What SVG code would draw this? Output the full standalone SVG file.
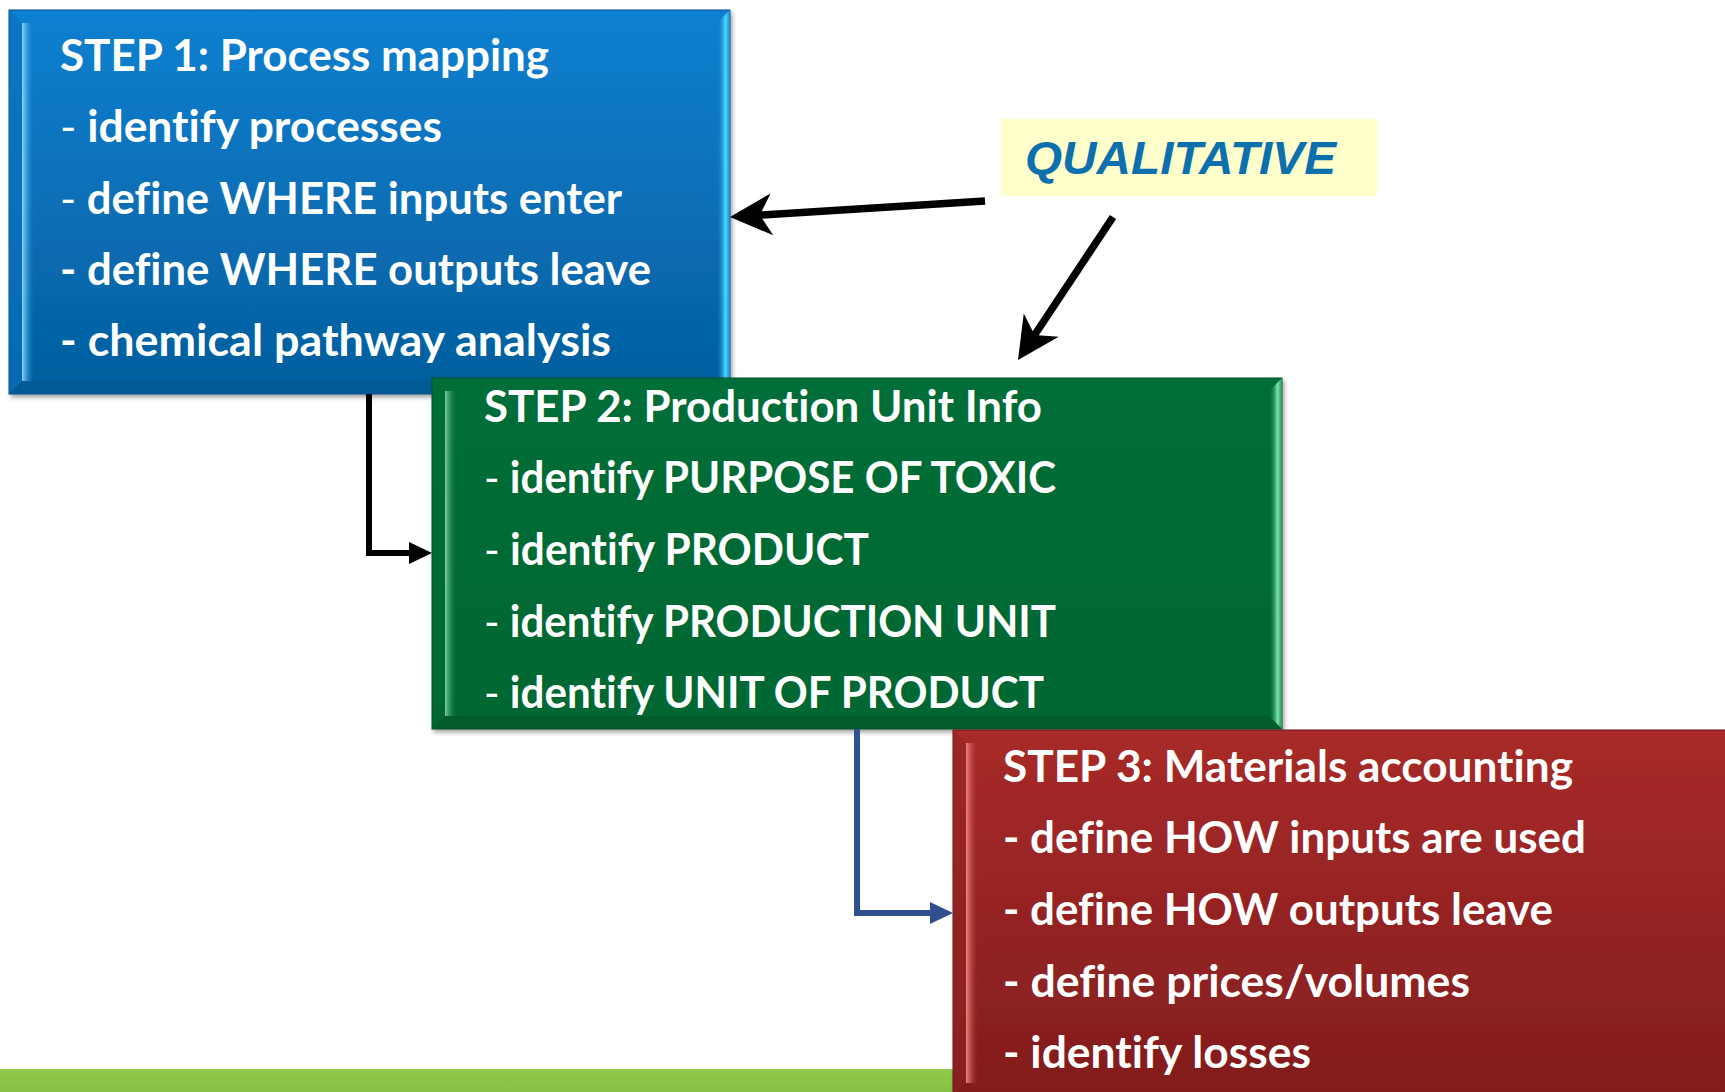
<svg xmlns="http://www.w3.org/2000/svg" width="1725" height="1092" viewBox="0 0 1725 1092">
  <style>
    .t { font-family: Lato, "Open Sans", "Liberation Sans", sans-serif; font-weight: 700; font-size: 43px; fill: #ffffff; font-variant-ligatures: none; font-feature-settings: "liga" 0; }
    .thin { font-weight: 400; }
    .q { font-family: "Liberation Sans", Arial, sans-serif; font-weight: 700; font-style: italic; font-size: 46px; fill: #0b70ac; }
    .blk { fill: none; stroke: #000000; stroke-width: 6; }
    .blu { fill: none; stroke: #2f4f8f; stroke-width: 6; }
    .qa { fill: none; stroke: #000000; stroke-width: 7.5; }
  </style>
  <defs>
    <filter id="sh" x="-5%" y="-5%" width="110%" height="115%">
      <feDropShadow dx="2" dy="3" stdDeviation="2" flood-color="#000" flood-opacity="0.35"/>
    </filter>
    <linearGradient id="gBlue" x1="0" y1="0" x2="0" y2="1">
      <stop offset="0" stop-color="#0b80d1"/>
      <stop offset="1" stop-color="#055e9d"/>
    </linearGradient>
    <linearGradient id="gGreen" x1="0" y1="0" x2="0" y2="1">
      <stop offset="0" stop-color="#056e38"/>
      <stop offset="1" stop-color="#036631"/>
    </linearGradient>
    <linearGradient id="gRed" x1="0" y1="0" x2="0" y2="1">
      <stop offset="0" stop-color="#a82a29"/>
      <stop offset="1" stop-color="#821d1d"/>
    </linearGradient>
    <linearGradient id="gBar" x1="0" y1="0" x2="0" y2="1">
      <stop offset="0" stop-color="#8fca4c"/>
      <stop offset="1" stop-color="#86c145"/>
    </linearGradient>
    <linearGradient id="hlBlueL" x1="0" y1="0" x2="1" y2="0">
      <stop offset="0" stop-color="#8fdcff" stop-opacity="0.95"/>
      <stop offset="1" stop-color="#0b80d1" stop-opacity="0"/>
    </linearGradient>
    <linearGradient id="hlBlueR" x1="0" y1="0" x2="1" y2="0">
      <stop offset="0" stop-color="#0a7acb" stop-opacity="0"/>
      <stop offset="0.65" stop-color="#4fd8ff"/>
      <stop offset="1" stop-color="#1686c8"/>
    </linearGradient>
    <linearGradient id="hlGreenL" x1="0" y1="0" x2="1" y2="0">
      <stop offset="0" stop-color="#7fd6a0" stop-opacity="0.95"/>
      <stop offset="1" stop-color="#056e38" stop-opacity="0"/>
    </linearGradient>
    <linearGradient id="hlGreenR" x1="0" y1="0" x2="1" y2="0">
      <stop offset="0" stop-color="#056e38" stop-opacity="0"/>
      <stop offset="0.65" stop-color="#78e4aa"/>
      <stop offset="1" stop-color="#2a8d58"/>
    </linearGradient>
    <linearGradient id="hlRedL" x1="0" y1="0" x2="1" y2="0">
      <stop offset="0" stop-color="#f58a86" stop-opacity="0.95"/>
      <stop offset="1" stop-color="#a82a29" stop-opacity="0"/>
    </linearGradient>
    <marker id="qhead" markerUnits="userSpaceOnUse" markerWidth="80" markerHeight="80" refX="0" refY="0" orient="auto" overflow="visible">
      <path d="M30,0 L-12,-21 L0,0 L-12,21 Z" fill="#000000"/>
    </marker>
    <marker id="hk" markerUnits="userSpaceOnUse" markerWidth="40" markerHeight="40" refX="0" refY="0" orient="auto" overflow="visible">
      <path d="M0,-11 L23,0 L0,11 Z" fill="#000000"/>
    </marker>
    <marker id="hb" markerUnits="userSpaceOnUse" markerWidth="40" markerHeight="40" refX="0" refY="0" orient="auto" overflow="visible">
      <path d="M0,-11 L23,0 L0,11 Z" fill="#2f4f8f"/>
    </marker>
  </defs>

  <rect width="1725" height="1092" fill="#ffffff"/>

  <g id="footer-bar">
    <rect x="0" y="1069" width="960" height="23" fill="url(#gBar)"/>
  </g>

  <g id="step1">
    <rect x="9" y="10" width="721" height="384" fill="url(#gBlue)" stroke="#0a4f85" stroke-width="1" filter="url(#sh)"/>
    <polygon points="9,10 22,23 22,381 9,394" fill="#0872bd" opacity="0.6"/>
    <rect x="22" y="23" width="12" height="358" fill="url(#hlBlueL)"/>
    <polygon points="717,23 730,10 730,394 717,381" fill="url(#hlBlueR)"/>
    <polygon points="9,394 22,381 717,381 730,394" fill="#04558c" opacity="0.5"/>
    <text class="t" x="60" y="70.5" textLength="489" lengthAdjust="spacingAndGlyphs">STEP 1: Process mapping</text>
    <text class="t" x="60" y="142" textLength="382" lengthAdjust="spacingAndGlyphs"><tspan class="thin">-</tspan> identify processes</text>
    <text class="t" x="60" y="213.5" textLength="562" lengthAdjust="spacingAndGlyphs"><tspan class="thin">-</tspan> define WHERE inputs enter</text>
    <text class="t" x="60" y="285" textLength="591" lengthAdjust="spacingAndGlyphs">- define WHERE outputs leave</text>
    <text class="t" x="60" y="356" textLength="551" lengthAdjust="spacingAndGlyphs">- chemical pathway analysis</text>
  </g>

  <g id="step2">
    <rect x="432" y="378" width="850" height="351" fill="url(#gGreen)" stroke="#04502a" stroke-width="1" filter="url(#sh)"/>
    <rect x="445" y="391" width="12" height="325" fill="url(#hlGreenL)"/>
    <polygon points="1269,391 1282,378 1282,729 1269,716" fill="url(#hlGreenR)"/>
    <polygon points="432,729 445,716 1269,716 1282,729" fill="#034f27" opacity="0.5"/>
    <text class="t" x="484" y="422" textLength="558" lengthAdjust="spacingAndGlyphs">STEP 2: Production Unit Info</text>
    <text class="t" x="484" y="493" textLength="572" lengthAdjust="spacingAndGlyphs"><tspan class="thin">-</tspan> identify PURPOSE OF TOXIC</text>
    <text class="t" x="484" y="565" textLength="385" lengthAdjust="spacingAndGlyphs"><tspan class="thin">-</tspan> identify PRODUCT</text>
    <text class="t" x="484" y="637" textLength="572" lengthAdjust="spacingAndGlyphs"><tspan class="thin">-</tspan> identify PRODUCTION UNIT</text>
    <text class="t" x="484" y="708" textLength="560" lengthAdjust="spacingAndGlyphs"><tspan class="thin">-</tspan> identify UNIT OF PRODUCT</text>
  </g>

  <g id="step3">
    <rect x="953" y="730" width="790" height="366" fill="url(#gRed)" stroke="#6a1515" stroke-width="1" filter="url(#sh)"/>
    <rect x="966" y="743" width="12" height="340" fill="url(#hlRedL)"/>
    <polygon points="953,730 966,743 966,1083 953,1096" fill="#8f2222" opacity="0.5"/>
    <text class="t" x="1003" y="782" textLength="570" lengthAdjust="spacingAndGlyphs">STEP 3: Materials accounting</text>
    <text class="t" x="1003" y="853" textLength="583" lengthAdjust="spacingAndGlyphs">- define HOW inputs are used</text>
    <text class="t" x="1003" y="925" textLength="550" lengthAdjust="spacingAndGlyphs">- define HOW outputs leave</text>
    <text class="t" x="1003" y="997" textLength="467" lengthAdjust="spacingAndGlyphs">- define prices/volumes</text>
    <text class="t" x="1003" y="1068" textLength="308" lengthAdjust="spacingAndGlyphs">- identify losses</text>
  </g>

  <g id="qualitative">
    <rect x="1001" y="119" width="376" height="77" fill="#ffffcc"/>
    <text class="q" x="1025" y="174" textLength="311" lengthAdjust="spacingAndGlyphs">QUALITATIVE</text>
  </g>

  <g id="connectors">
    <path class="blk" d="M369,394 V553 H409" marker-end="url(#hk)"/>
    <path class="blu" d="M857,729 V913 H930" marker-end="url(#hb)"/>
    <line class="qa" x1="985" y1="201" x2="759.9" y2="215.1" marker-end="url(#qhead)"/>
    <line class="qa" x1="1113" y1="217" x2="1034.6" y2="335" marker-end="url(#qhead)"/>
  </g>
</svg>
